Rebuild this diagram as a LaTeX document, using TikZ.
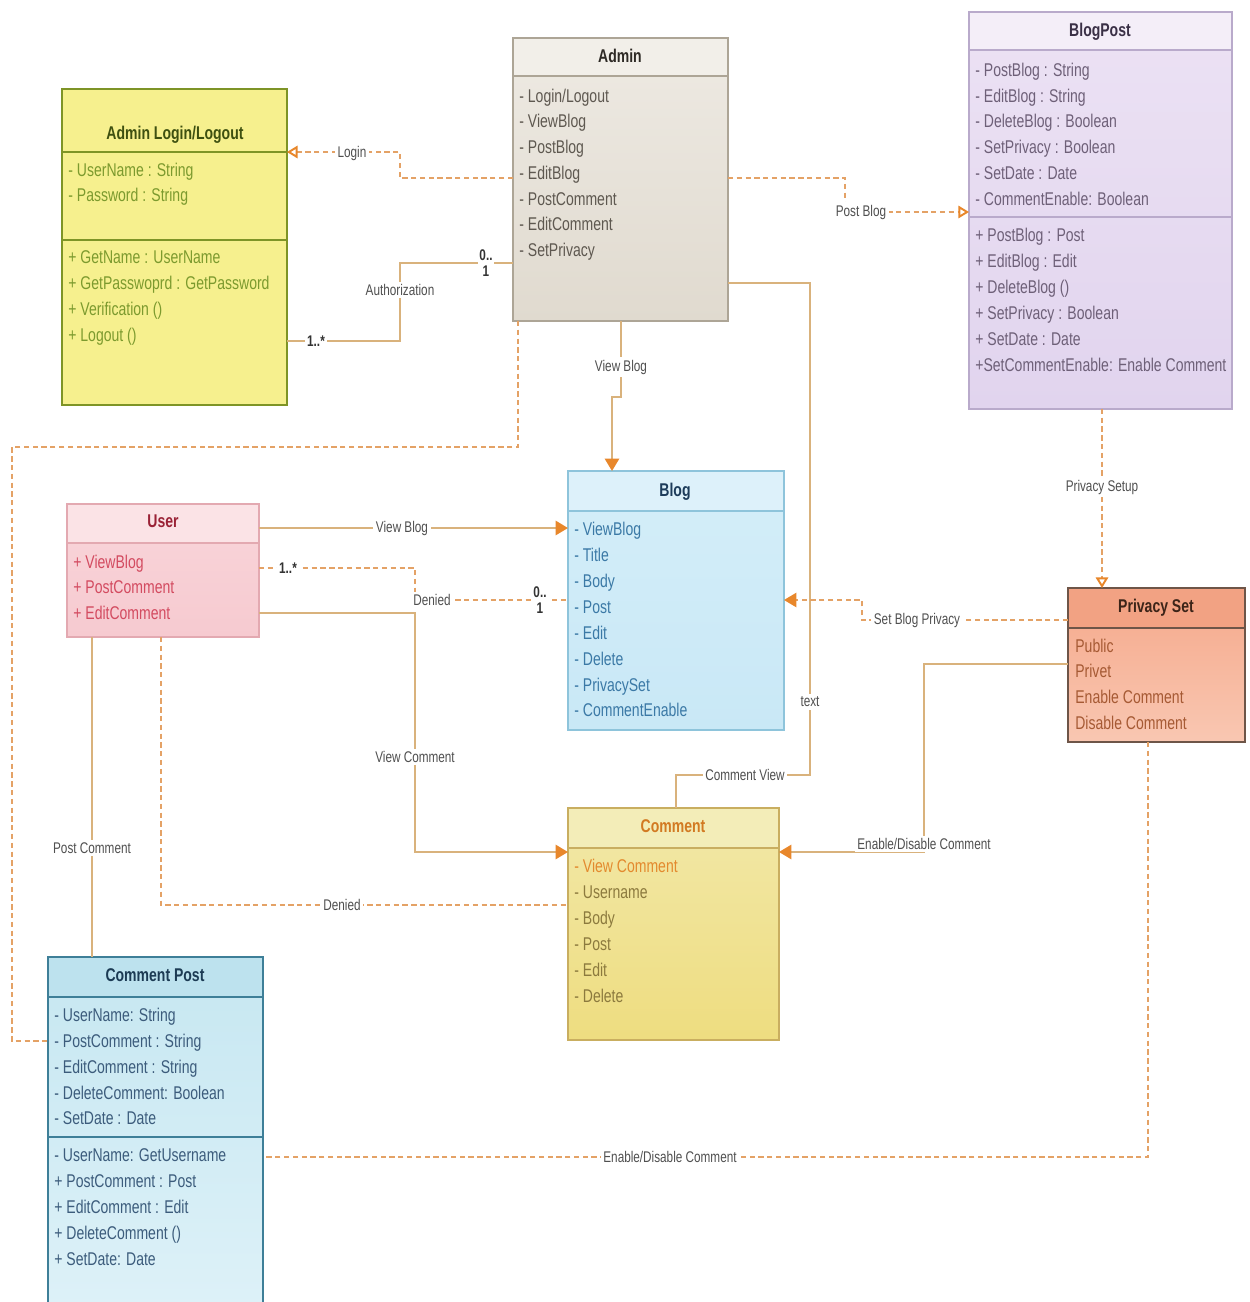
\documentclass[tikz,border=0pt]{standalone}
\usepackage{fontspec}
\setmainfont{Liberation Sans}[FakeStretch=0.76]
\usetikzlibrary{arrows.meta}
\definecolor{lineC}{HTML}{D9B27C}
\definecolor{dashC}{HTML}{E4A266}
\definecolor{arrowC}{HTML}{E8872B}
\definecolor{labelC}{HTML}{505050}
% Admin Login
\definecolor{adlF}{HTML}{F6F08E}\definecolor{adlB}{HTML}{7E9426}
\definecolor{adlT}{HTML}{3E5010}\definecolor{adlI}{HTML}{7C9A2E}
% Admin
\definecolor{admTF}{HTML}{F2EFE9}\definecolor{admF1}{HTML}{EEEAE3}\definecolor{admF2}{HTML}{E0DACF}
\definecolor{admB}{HTML}{ADA596}\definecolor{admT}{HTML}{2E2A25}\definecolor{admI}{HTML}{5E5850}
% BlogPost
\definecolor{bpTF}{HTML}{F4EEF8}\definecolor{bpF1}{HTML}{ECE2F4}\definecolor{bpF2}{HTML}{E1D4EE}
\definecolor{bpB}{HTML}{B9AACB}\definecolor{bpT}{HTML}{3A3046}\definecolor{bpI}{HTML}{6E6078}
% User
\definecolor{usTF}{HTML}{FBE3E6}\definecolor{usF1}{HTML}{F9D5DA}\definecolor{usF2}{HTML}{F6CAD0}
\definecolor{usB}{HTML}{E3A9B1}\definecolor{usT}{HTML}{9A2236}\definecolor{usI}{HTML}{D34B60}
% Blog
\definecolor{blTF}{HTML}{DDF1FA}\definecolor{blF1}{HTML}{D4EEF9}\definecolor{blF2}{HTML}{C9E8F6}
\definecolor{blB}{HTML}{8EC4DB}\definecolor{blT}{HTML}{1D3C5A}\definecolor{blI}{HTML}{3B79A6}
% Privacy Set
\definecolor{prTF}{HTML}{F2A283}\definecolor{prF1}{HTML}{F5A88A}\definecolor{prF2}{HTML}{F9C7B2}
\definecolor{prB}{HTML}{6E5548}\definecolor{prT}{HTML}{3C2418}\definecolor{prI}{HTML}{A65A34}
% Comment
\definecolor{coTF}{HTML}{F3EDB8}\definecolor{coF1}{HTML}{F2E8A8}\definecolor{coF2}{HTML}{EEDD80}
\definecolor{coB}{HTML}{C9AE60}\definecolor{coT}{HTML}{D27A22}\definecolor{coI}{HTML}{8C7A3E}
\definecolor{coH}{HTML}{E38A2E}
% Comment Post
\definecolor{cpTF}{HTML}{BDE2EE}\definecolor{cpF1}{HTML}{C6E7F1}\definecolor{cpF2}{HTML}{DDF1F8}
\definecolor{cpB}{HTML}{3E7F98}\definecolor{cpT}{HTML}{1C3B54}\definecolor{cpI}{HTML}{3C5C7C}

\newcommand\classitems[4]{%
  \foreach \yy/\txt [count=\k] in {#4} {\node[item,text=#3] (#1\k) at (#2,\yy+6) {\txt};}}

\begin{document}
\begin{tikzpicture}[x=0.02cm,y=-0.02cm,
  cbox/.style={anchor=north west, inner sep=0pt, outer sep=0pt, line width=1pt},
  item/.style={anchor=base west, inner sep=0pt, font=\fontsize{10.5}{12}\selectfont},
  ttl/.style={anchor=base, inner sep=0pt, font=\fontsize{10.5}{12}\selectfont\bfseries},
  solidc/.style={draw=lineC, line width=1.3pt},
  dashc/.style={draw=dashC, line width=1.1pt, dash pattern=on 3pt off 2pt},
  farrow/.style={-{Triangle[length=7pt,width=8pt,color=arrowC]}},
  oarrow/.style={-{Triangle[length=6pt,width=7pt,color=arrowC,fill=white]}},
  lbl/.style={fill=white, inner sep=1.5pt, text=labelC, font=\fontsize{8.8}{10}\selectfont},
  mult/.style={fill=white, inner sep=1pt, font=\fontsize{8.8}{9}\selectfont\bfseries, align=center, text=black!80}
]
\fill[white, use as bounding box] (0,0) rectangle (1249,1302);

% ---------- Admin Login/Logout ----------
\node[cbox, draw=adlB, fill=adlF, line width=1.3pt, minimum width=4.5cm, minimum height=6.32cm] (adl) at (62,89) {};
\draw[adlB, line width=1.3pt] (adl.west |- 0,152) -- (adl.east |- 0,152) (adl.west |- 0,240) -- (adl.east |- 0,240);
\node[ttl, text=adlT] (adlt) at (175,139) {Admin Login/Logout};
\classitems{adla}{68}{adlI}{170/{- UserName : String},195/{- Password : String}}
\classitems{adlo}{68}{adlI}{257/{+ GetName : UserName},283/{+ GetPasswoprd : GetPassword},309/{+ Verification ()},335/{+ Logout ()}}

% ---------- Admin ----------
\node[cbox, top color=admF1, bottom color=admF2, minimum width=4.3cm, minimum height=5.66cm] (adm) at (513,38) {};
\fill[admTF] (adm.north west) rectangle (adm.east |- 0,76);
\draw[admB, line width=1pt] (adm.north west) rectangle (adm.south east) (adm.west |- 0,76) -- (adm.east |- 0,76);
\node[ttl, text=admT] (admt) at (620,62) {Admin};
\classitems{adma}{519}{admI}{96/{- Login/Logout},121/{- ViewBlog},147/{- PostBlog},173/{- EditBlog},199/{- PostComment},224/{- EditComment},250/{- SetPrivacy}}

% ---------- BlogPost ----------
\node[cbox, top color=bpF1, bottom color=bpF2, minimum width=5.26cm, minimum height=7.94cm] (bp) at (969,12) {};
\fill[bpTF] (bp.north west) rectangle (bp.east |- 0,50);
\draw[bpB, line width=1pt] (bp.north west) rectangle (bp.south east) (bp.west |- 0,50) -- (bp.east |- 0,50) (bp.west |- 0,217) -- (bp.east |- 0,217);
\node[ttl, text=bpT] (bpt) at (1100,36) {BlogPost};
\classitems{bpa}{975}{bpI}{70/{- PostBlog : String},96/{- EditBlog : String},121/{- DeleteBlog : Boolean},147/{- SetPrivacy : Boolean},173/{- SetDate : Date},199/{- CommentEnable: Boolean}}
\classitems{bpo}{975}{bpI}{235/{+ PostBlog : Post},261/{+ EditBlog : Edit},287/{+ DeleteBlog ()},313/{+ SetPrivacy : Boolean},339/{+ SetDate : Date},365/{+SetCommentEnable: Enable Comment}}

% ---------- User ----------
\node[cbox, top color=usF1, bottom color=usF2, minimum width=3.84cm, minimum height=2.66cm] (us) at (67,504) {};
\fill[usTF] (us.north west) rectangle (us.east |- 0,543);
\draw[usB, line width=1pt] (us.north west) rectangle (us.south east) (us.west |- 0,543) -- (us.east |- 0,543);
\node[ttl, text=usT] (ust) at (163,527) {User};
\classitems{usa}{73}{usI}{562/{+ ViewBlog},587/{+ PostComment},613/{+ EditComment}}

% ---------- Blog ----------
\node[cbox, top color=blF1, bottom color=blF2, minimum width=4.32cm, minimum height=5.18cm] (bl) at (568,471) {};
\fill[blTF] (bl.north west) rectangle (bl.east |- 0,511);
\draw[blB, line width=1pt] (bl.north west) rectangle (bl.south east) (bl.west |- 0,511) -- (bl.east |- 0,511);
\node[ttl, text=blT] (blt) at (675,496) {Blog};
\classitems{bla}{574}{blI}{529/{- ViewBlog},555/{- Title},581/{- Body},607/{- Post},633/{- Edit},659/{- Delete},685/{- PrivacySet},710/{- CommentEnable}}

% ---------- Privacy Set ----------
\node[cbox, top color=prF1, bottom color=prF2, minimum width=3.54cm, minimum height=3.08cm] (pr) at (1068,588) {};
\fill[prTF] (pr.north west) rectangle (pr.east |- 0,628);
\draw[prB, line width=1.3pt] (pr.north west) rectangle (pr.south east) (pr.west |- 0,628) -- (pr.east |- 0,628);
\node[ttl, text=prT] (prt) at (1156,612) {Privacy Set};
\classitems{pra}{1075}{prI}{646/{Public},671/{Privet},697/{Enable Comment},723/{Disable Comment}}

% ---------- Comment ----------
\node[cbox, top color=coF1, bottom color=coF2, minimum width=4.22cm, minimum height=4.64cm] (co) at (568,808) {};
\fill[coTF] (co.north west) rectangle (co.east |- 0,848);
\draw[coB, line width=1pt] (co.north west) rectangle (co.south east) (co.west |- 0,848) -- (co.east |- 0,848);
\node[ttl, text=coT] (cot) at (673,832) {Comment};
\node[item, text=coH] (coa1) at (574,872) {- View Comment};
\classitems{cob}{574}{coI}{892/{- Username},918/{- Body},944/{- Post},970/{- Edit},996/{- Delete}}

% ---------- Comment Post ----------
\node[cbox, top color=cpF1, bottom color=cpF2, minimum width=4.3cm, minimum height=6.98cm] (cp) at (48,957) {};
\fill[cpTF] (cp.north west) rectangle (cp.east |- 0,997);
\draw[cpB, line width=1.3pt] (cp.north west) rectangle (cp.south east) (cp.west |- 0,997) -- (cp.east |- 0,997) (cp.west |- 0,1137) -- (cp.east |- 0,1137);
\node[ttl, text=cpT] (cpt) at (155,981) {Comment Post};
\classitems{cpa}{54}{cpI}{1015/{- UserName: String},1041/{- PostComment : String},1067/{- EditComment : String},1093/{- DeleteComment: Boolean},1118/{- SetDate : Date}}
\classitems{cpo}{54}{cpI}{1155/{- UserName: GetUsername},1181/{+ PostComment : Post},1207/{+ EditComment : Edit},1233/{+ DeleteComment ()},1259/{+ SetDate: Date}}

% ================= connectors =================
% Login
\draw[dashc, oarrow] (adm.west |- 0,178) -- (400,178) -- (400,152) -- (adl.east |- 0,152);
\node[lbl] (lLogin) at (352,153) {Login};
% Authorization
\draw[solidc] (adm.west |- 0,263) -- (400,263) -- (400,341) -- (adl.east |- 0,341);
\node[lbl] (lAuth) at (400,290) {Authorization};
\node[mult] (mAuth1) at (486,263) {0..\\1};
\node[mult] (mAuth2) at (316,341) {1..*};
% Post Blog
\draw[dashc, oarrow] (adm.east |- 0,178) -- (845,178) -- (845,212) -- (bp.west |- 0,212);
\node[lbl] (lPost) at (861,212) {Post Blog};
% View Blog (Admin -> Blog)
\draw[solidc, farrow] (adm.south -| 621,0) -- (621,397) -- (612,397) -- (bl.north -| 612,0);
\node[lbl] (lVB1) at (621,367) {View Blog};
% Admin -> Comment Post (dashed)
\draw[dashc] (adm.south -| 518,0) -- (518,447) -- (12,447) -- (12,1041) -- (cp.west |- 0,1041);
% Admin -> Comment (solid)
\draw[solidc] (adm.east |- 0,283) -- (810,283) -- (810,775) -- (676,775) -- (co.north -| 676,0);
\node[lbl] (lText) at (810,702) {text};
\node[lbl] (lCV) at (745,775) {Comment View};
% BlogPost -> Privacy Set
\draw[dashc, oarrow] (bp.south -| 1102,0) -- (pr.north -| 1102,0);
\node[lbl] (lPS) at (1102,487) {Privacy Setup};
% Set Blog Privacy
\draw[dashc, farrow] (pr.west |- 0,620) -- (862,620) -- (862,600) -- (bl.east |- 0,600);
\node[lbl] (lSBP) at (917,620) {Set Blog Privacy};
% Enable/Disable Comment (solid)
\draw[solidc, farrow] (pr.west |- 0,664) -- (924,664) -- (924,852) -- (co.east |- 0,852);
\node[lbl] (lED1) at (924,844) {Enable/Disable Comment};
% Enable/Disable Comment (dashed)
\draw[dashc] (pr.south -| 1148,0) -- (1148,1157) -- (cp.east |- 0,1157);
\node[lbl] (lED2) at (670,1157) {Enable/Disable Comment};
% User View Blog
\draw[solidc, farrow] (us.east |- 0,528) -- (bl.west |- 0,528);
\node[lbl] (lVB2) at (402,528) {View Blog};
% Denied (User -> Blog)
\draw[dashc] (us.east |- 0,568) -- (415,568) -- (415,600) -- (bl.west |- 0,600);
\node[mult] (mD1) at (288,568) {1..*};
\node[mult] (mD2) at (540,600) {0..\\1};
\node[lbl] (lDen1) at (432,600) {Denied};
% View Comment
\draw[solidc, farrow] (us.east |- 0,613) -- (415,613) -- (415,852) -- (co.west |- 0,852);
\node[lbl] (lVC) at (415,757) {View Comment};
% Post Comment
\draw[solidc] (us.south -| 92,0) -- (cp.north -| 92,0);
\node[lbl] (lPC) at (92,848) {Post Comment};
% Denied (User -> Comment)
\draw[dashc] (us.south -| 161,0) -- (161,905) -- (co.west |- 0,905);
\node[lbl] (lDen2) at (342,905) {Denied};
\end{tikzpicture}
\end{document}
